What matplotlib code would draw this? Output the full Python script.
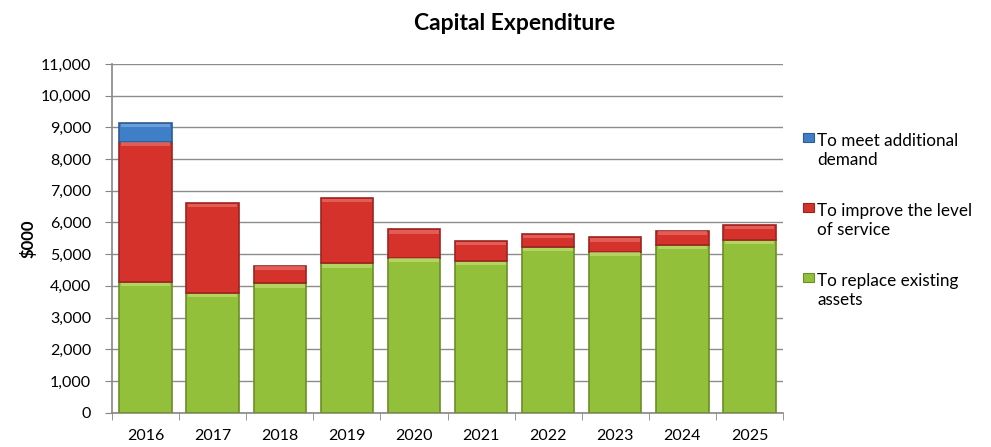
import matplotlib.pyplot as plt
import numpy as np
from matplotlib.patches import Rectangle
from matplotlib.ticker import FuncFormatter, MultipleLocator

years = ["2016", "2017", "2018", "2019", "2020",
         "2021", "2022", "2023", "2024", "2025"]
replace = [4130, 3770, 4080, 4710, 4890, 4780, 5220, 5080, 5290, 5450]
improve = [4420, 2850, 560, 2070, 890, 640, 420, 450, 450, 470]
demand = [595, 0, 0, 0, 0, 0, 0, 0, 0, 0]

labels = [["To replace existing", "assets"],
          ["To improve the level", "of service"],
          ["To meet additional", "demand"]]
colors = ["#93c03a", "#d6322c", "#3f7fc8"]
edges = ["#6c8e27", "#9c2420", "#2d5c92"]
shines = ["#c9e27a", "#ee7a70", "#86b4e6"]

W, H = 991, 447
plt.rcParams["font.family"] = ["Lato", "DejaVu Sans"]

fig = plt.figure(figsize=(W / 100, H / 100), dpi=100)
ax = fig.add_axes([112 / W, 1 - 412.7 / H, 671 / W, 348.8 / H])

x = np.arange(len(years))
bottom = np.zeros(len(years))
px = 11000 / 348.8  # data units per pixel on the value axis
for vals, c, e, sh in zip([replace, improve, demand], colors, edges, shines):
    vals = np.array(vals, dtype=float)
    ec = [e if v > 0 else "none" for v in vals]
    ax.bar(x, vals, bottom=bottom, width=0.78, color=c, edgecolor=ec,
           linewidth=1.2, zorder=3)
    # light bevel along the top of each segment
    top = bottom + vals
    hl = np.where(vals > 0, np.minimum(3.5 * px, vals * 0.5), 0)
    ax.bar(x, hl, bottom=top - hl - 0.8 * px, width=0.74, color=sh,
           linewidth=0, zorder=4, alpha=0.6)
    bottom = top

ax.set_xlim(-0.5, len(years) - 0.5)
ax.set_ylim(0, 11000)
ax.yaxis.set_major_locator(MultipleLocator(1000))
ax.yaxis.set_major_formatter(FuncFormatter(lambda v, p: f"{v:,.0f}"))
ax.yaxis.grid(True, color="#8c8c8c", linewidth=1.0, zorder=0)
ax.set_axisbelow(True)

ax.set_xticks(x)
ax.set_xticklabels(years)
ax.set_xticks(np.arange(-0.5, len(years)), minor=True)
ax.tick_params(axis="x", which="major", length=0, pad=12, labelsize=11.5)
ax.tick_params(axis="x", which="minor", length=5, color="#868686", direction="out")
ax.tick_params(axis="y", length=5, color="#868686", labelsize=11.5, pad=10)

for s in ("top", "right"):
    ax.spines[s].set_visible(False)
for s in ("left", "bottom"):
    ax.spines[s].set_color("#868686")
    ax.spines[s].set_linewidth(1.2)

ax.set_ylabel("$000", fontsize=12, fontweight="bold")
ax.yaxis.set_label_coords(-0.113, 0.5)
fig.text(515 / W, 1 - 30 / H, "Capital Expenditure", ha="center",
         va="baseline", fontsize=16.5, fontweight="bold")

# legend, drawn by hand so the key sits beside the first line of each entry
for i, (lines, c, e) in enumerate(zip(labels[::-1], colors[::-1], edges[::-1])):
    base = 146 + 70 * i
    fig.patches.append(Rectangle((803 / W, 1 - (base - 4) / H), 11 / W, 9 / H,
                                 transform=fig.transFigure, facecolor=c,
                                 edgecolor=e, linewidth=0.8))
    for j, line in enumerate(lines):
        fig.text(817 / W, 1 - (base + 19 * j) / H, line, ha="left",
                 va="baseline", fontsize=12.3)

fig.savefig("out.png", dpi=100, facecolor="white")
